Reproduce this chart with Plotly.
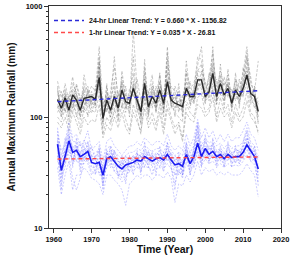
import plotly.graph_objects as go

years = list(range(1961, 2015))

# mean of 24-hr annual maxima (thick black)
mean_24hr = [144, 120, 149, 115, 158, 142, 115, 147, 150, 153,
             144, 228, 97, 142, 115, 153, 120, 175, 137, 133,
             181, 142, 112, 201, 124, 153, 133, 175, 133, 208,
             142, 133, 128, 124, 181, 153, 153, 216, 216, 153,
             169, 247, 153, 201, 158, 181, 133, 175, 153, 181,
             239, 163, 153, 112]

# mean of 1-hr annual maxima (thick blue)
mean_1hr = [57, 33, 44, 61, 48, 50, 44, 46, 49, 39,
            38, 39, 30, 42, 44, 40, 36, 34, 37, 38,
            39, 41, 40, 44, 42, 40, 42, 43, 41, 46,
            41, 37, 38, 36, 46, 38, 44, 58, 44, 52,
            46, 49, 44, 46, 42, 46, 43, 44, 44, 48,
            56, 49, 44, 34]

# individual 24-hr stations (thin gray dashed)
st24_a = [210, 150, 180, 130, 200, 170, 110, 240, 160, 190,
          170, 430, 120, 160, 140, 350, 130, 230, 150, 120,
          600, 180, 100, 280, 140, 200, 150, 240, 120, 430,
          160, 140, 170, 110, 260, 180, 200, 300, 430, 170,
          230, 380, 170, 260, 190, 240, 150, 220, 180, 250,
          430, 200, 170, 320]
st24_b = [100, 90, 120, 85, 130, 110, 80, 120, 105, 115,
          110, 160, 70, 100, 85, 120, 90, 130, 95, 75,
          130, 100, 70, 150, 90, 110, 85, 130, 80, 140,
          100, 80, 90, 65, 130, 110, 100, 150, 160, 110,
          120, 180, 100, 150, 110, 130, 90, 130, 100, 120,
          170, 110, 100, 70]
st24_c = [160, 130, 200, 140, 180, 160, 130, 170, 190, 140,
          150, 280, 90, 190, 110, 170, 150, 200, 120, 160,
          250, 130, 120, 220, 110, 170, 160, 200, 150, 250,
          130, 160, 120, 150, 210, 140, 170, 260, 250, 140,
          190, 300, 140, 220, 170, 200, 120, 210, 160, 200,
          280, 150, 140, 100]
st24_d = [130, 110, 140, 100, 170, 130, 100, 130, 140, 170,
          130, 200, 110, 130, 100, 140, 110, 160, 160, 140,
          170, 160, 100, 180, 130, 140, 120, 160, 120, 190,
          150, 120, 140, 140, 160, 170, 140, 200, 190, 170,
          160, 230, 170, 180, 150, 160, 140, 160, 140, 170,
          220, 180, 160, 130]
st24_e = [190, 100, 160, 120, 140, 190, 140, 160, 120, 140,
          160, 320, 80, 170, 130, 220, 100, 210, 130, 110,
          200, 120, 90, 330, 100, 180, 110, 250, 110, 380,
          130, 110, 100, 90, 250, 130, 170, 350, 330, 140,
          150, 430, 130, 300, 140, 220, 110, 190, 130, 210,
          350, 140, 130, 90]
st24_f = [120, 140, 130, 110, 150, 120, 130, 140, 160, 130,
          140, 180, 100, 120, 120, 130, 140, 150, 130, 150,
          160, 140, 110, 170, 140, 130, 140, 150, 140, 170,
          140, 150, 130, 120, 170, 150, 140, 190, 200, 150,
          180, 200, 150, 190, 160, 170, 140, 180, 170, 160,
          200, 170, 150, 120]
st24_g = [170, 120, 160, 130, 160, 150, 120, 150, 130, 150,
          150, 250, 110, 140, 110, 160, 120, 170, 140, 130,
          190, 140, 120, 200, 120, 150, 140, 180, 130, 220,
          150, 130, 140, 120, 190, 150, 150, 220, 220, 160,
          170, 260, 150, 210, 160, 190, 130, 180, 150, 190,
          260, 170, 160, 110]
st24_h = [90, 80, 100, 75, 110, 90, 70, 100, 85, 95,
          90, 130, 65, 85, 75, 100, 80, 110, 80, 70,
          110, 90, 75, 120, 80, 95, 75, 110, 70, 120,
          90, 70, 85, 60, 110, 95, 90, 130, 120, 100,
          110, 150, 90, 120, 100, 110, 80, 110, 90, 100,
          140, 100, 90, 75]
st24_i = [140, 170, 110, 160, 120, 200, 150, 110, 180, 120,
          190, 180, 140, 110, 170, 280, 160, 140, 110, 180,
          150, 220, 140, 170, 160, 240, 110, 190, 170, 160,
          190, 170, 110, 160, 150, 210, 130, 180, 260, 210,
          140, 200, 220, 160, 230, 150, 180, 140, 220, 150,
          330, 230, 140, 150]
st24_j = [110, 130, 170, 95, 140, 100, 140, 180, 100, 160,
          120, 350, 90, 200, 90, 110, 170, 120, 190, 100,
          210, 110, 140, 130, 170, 120, 190, 140, 100, 290,
          120, 190, 150, 130, 140, 120, 190, 240, 180, 130,
          250, 170, 130, 240, 120, 270, 120, 250, 120, 280,
          190, 130, 190, 85]
st24_k = [180, 110, 140, 150, 230, 140, 95, 200, 140, 110,
          140, 200, 130, 150, 150, 190, 95, 260, 150, 140,
          170, 150, 85, 250, 120, 190, 130, 210, 130, 330,
          170, 100, 200, 100, 320, 160, 160, 260, 300, 190,
          200, 330, 190, 180, 200, 190, 170, 160, 160, 220,
          380, 160, 120, 140]
st24_l = [125, 100, 130, 120, 110, 160, 105, 125, 170, 135,
          125, 300, 100, 120, 100, 140, 130, 190, 120, 125,
          350, 125, 105, 170, 105, 160, 120, 150, 110, 200,
          125, 125, 120, 115, 180, 130, 140, 170, 210, 150,
          160, 280, 140, 160, 140, 200, 140, 150, 140, 180,
          240, 150, 180, 100]

# individual 1-hr stations (thin blue dotted)
st1_a = [80, 45, 60, 90, 65, 70, 55, 60, 75, 50,
         55, 60, 40, 60, 65, 55, 50, 45, 50, 55,
         55, 60, 55, 65, 60, 55, 60, 60, 55, 70,
         55, 50, 55, 50, 70, 55, 65, 95, 65, 80,
         65, 75, 60, 70, 60, 70, 60, 65, 65, 75,
         90, 70, 65, 50]
st1_b = [35, 20, 30, 40, 22, 30, 30, 35, 32, 28,
         27, 25, 20, 30, 30, 27, 25, 22, 16, 25,
         27, 30, 28, 30, 30, 27, 30, 30, 28, 32,
         28, 17, 25, 24, 30, 26, 30, 40, 30, 35,
         32, 34, 30, 32, 30, 32, 30, 30, 30, 33,
         38, 33, 30, 19]
st1_c = [60, 30, 45, 70, 50, 55, 40, 50, 55, 35,
         35, 45, 25, 45, 50, 40, 30, 30, 35, 40,
         45, 40, 35, 50, 45, 35, 45, 50, 40, 55,
         45, 30, 40, 30, 55, 35, 50, 75, 45, 60,
         50, 55, 45, 50, 40, 55, 45, 50, 45, 55,
         65, 50, 45, 30]
st1_d = [50, 40, 40, 55, 45, 45, 50, 40, 45, 45,
         42, 35, 35, 38, 40, 45, 40, 38, 42, 35,
         35, 45, 45, 40, 38, 45, 38, 40, 45, 42,
         38, 42, 35, 42, 40, 42, 40, 50, 40, 45,
         42, 45, 42, 42, 45, 42, 40, 40, 42, 44,
         50, 45, 40, 38]
st1_e = [45, 25, 55, 75, 35, 65, 35, 55, 40, 45,
         30, 55, 22, 50, 35, 50, 28, 45, 25, 45,
         30, 50, 30, 60, 35, 50, 30, 55, 35, 60,
         35, 22, 48, 30, 60, 30, 55, 85, 35, 70,
         38, 65, 35, 55, 35, 60, 35, 55, 38, 60,
         75, 42, 55, 28]
st1_f = [65, 35, 50, 45, 28, 22, 28, 40, 60, 40,
         45, 30, 30, 35, 55, 35, 40, 30, 40, 32,
         45, 35, 45, 35, 50, 38, 45, 35, 48, 40,
         48, 40, 30, 40, 38, 45, 35, 55, 55, 45,
         55, 42, 50, 40, 48, 40, 48, 38, 50, 42,
         60, 55, 40, 45]
st1_g = [40, 35, 38, 50, 40, 40, 38, 38, 42, 32,
         32, 32, 28, 35, 38, 33, 32, 28, 30, 32,
         33, 35, 34, 36, 35, 33, 34, 35, 34, 38,
         34, 30, 32, 30, 38, 33, 36, 48, 36, 42,
         38, 40, 36, 38, 35, 38, 36, 37, 36, 40,
         46, 40, 37, 26]
st1_h = [70, 50, 55, 80, 60, 60, 55, 55, 60, 45,
         48, 50, 35, 52, 55, 48, 45, 42, 45, 48,
         48, 52, 50, 55, 52, 48, 52, 52, 48, 58,
         50, 45, 48, 45, 58, 48, 55, 90, 55, 65,
         58, 62, 55, 58, 52, 58, 52, 55, 55, 60,
         80, 60, 55, 42]
st1_i = [55, 38, 65, 50, 42, 48, 60, 42, 50, 38,
         44, 48, 32, 38, 48, 42, 35, 40, 32, 44,
         42, 48, 38, 48, 40, 45, 42, 40, 44, 50,
         44, 35, 42, 32, 50, 40, 48, 65, 42, 55,
         48, 52, 48, 50, 45, 50, 45, 52, 48, 52,
         65, 52, 48, 32]
st1_j = [75, 28, 35, 65, 55, 40, 48, 52, 45, 55,
         40, 38, 28, 48, 40, 50, 42, 35, 45, 38,
         42, 38, 48, 42, 48, 42, 48, 45, 38, 48,
         38, 45, 38, 40, 42, 48, 38, 70, 48, 50,
         42, 58, 40, 48, 45, 48, 42, 45, 48, 50,
         58, 46, 50, 35]
st1_k = [48, 22, 48, 58, 38, 55, 32, 48, 38, 30,
         33, 40, 24, 40, 42, 32, 30, 26, 28, 36,
         36, 42, 32, 42, 36, 30, 38, 42, 32, 46,
         36, 25, 34, 28, 48, 30, 42, 60, 38, 50,
         40, 46, 38, 44, 36, 46, 38, 42, 38, 46,
         55, 40, 42, 24]
st1_l = [62, 42, 50, 68, 52, 58, 45, 62, 52, 42,
         42, 52, 33, 48, 52, 44, 40, 36, 40, 42,
         40, 46, 44, 52, 46, 44, 46, 46, 44, 52,
         46, 40, 44, 38, 52, 42, 50, 82, 50, 62,
         52, 58, 50, 52, 48, 52, 48, 50, 50, 55,
         72, 56, 50, 40]

stations_24 = [st24_a, st24_b, st24_c, st24_d, st24_e, st24_f,
               st24_g, st24_h, st24_i, st24_j, st24_k, st24_l]
stations_1 = [st1_a, st1_b, st1_c, st1_d, st1_e, st1_f,
              st1_g, st1_h, st1_i, st1_j, st1_k, st1_l]

# trend coefficients from legend
slope_24, icpt_24 = 0.660, -1156.82
slope_1, icpt_1 = 0.035, -26.81
label_24 = "24-hr Linear Trend: Y = 0.660 * X - 1156.82"
label_1 = "1-hr Linear Trend: Y = 0.035 * X - 26.81"

x_ticks = [1960, 1970, 1980, 1990, 2000, 2010, 2020]
y_ticks = [10, 100, 1000]

FONT = "Liberation Sans"

fig = go.Figure()

for s in stations_24:
    fig.add_trace(go.Scatter(x=years, y=s, mode="lines", showlegend=False,
                             line=dict(color="rgba(95,95,95,0.55)", width=0.6, dash="3px,1.5px")))
for s in stations_1:
    fig.add_trace(go.Scatter(x=years, y=s, mode="lines", showlegend=False,
                             line=dict(color="rgba(80,80,255,0.5)", width=0.6, dash="2px,1.5px")))

fig.add_trace(go.Scatter(x=years, y=mean_24hr, mode="lines", showlegend=False,
                         line=dict(color="#2a2a2a", width=1.4)))
fig.add_trace(go.Scatter(x=years, y=mean_1hr, mode="lines", showlegend=False,
                         line=dict(color="#1c1cf0", width=1.6)))

fig.add_trace(go.Scatter(x=[years[0], years[-1]],
                         y=[slope_24 * years[0] + icpt_24, slope_24 * years[-1] + icpt_24],
                         mode="lines", name=label_24, legend="legend",
                         line=dict(color="#2a2ad8", width=1.4, dash="4px,3px")))
fig.add_trace(go.Scatter(x=[years[0], years[-1]],
                         y=[slope_1 * years[0] + icpt_1, slope_1 * years[-1] + icpt_1],
                         mode="lines", name=label_1, legend="legend2",
                         line=dict(color="#ff4a4a", width=1.4, dash="4px,3px")))

axis_common = dict(showline=True, linecolor="#333", linewidth=1.2, mirror=True,
                   ticks="outside", tickcolor="#333", ticklen=4, showgrid=False,
                   zeroline=False, automargin=False,
                   tickfont=dict(family=FONT, size=7.5, color="#111", weight="bold"))

fig.update_xaxes(range=[1958.75, 2020], tickvals=x_ticks,
                 minor=dict(ticks="outside", ticklen=2, tickcolor="#333", dtick=5, showgrid=False),
                 title=dict(text="<b>Time (Year)</b>", font=dict(family=FONT, size=10.5, color="#111"),
                            standoff=12),
                 **axis_common)
fig.update_yaxes(type="log", range=[1, 3], tickvals=y_ticks,
                 minor=dict(ticks="outside", ticklen=2, tickcolor="#333", dtick="D1", showgrid=False),
                 title=dict(text="<b>Annual Maximum Rainfall (mm)</b>",
                            font=dict(family=FONT, size=10, color="#111"), standoff=8),
                 **axis_common)

legend_font = dict(family=FONT, size=7, color="#111", weight="bold")
fig.update_layout(
    width=290, height=255,
    margin=dict(l=49, r=9, t=6, b=27),
    paper_bgcolor="white", plot_bgcolor="white",
    legend=dict(x=0.0, y=1.0, xanchor="left", yanchor="top",
                bgcolor="rgba(0,0,0,0)", borderwidth=0, font=legend_font, itemwidth=30),
    legend2=dict(x=0.0, y=0.946, xanchor="left", yanchor="top",
                 bgcolor="rgba(0,0,0,0)", borderwidth=0, font=legend_font, itemwidth=30),
)

fig.write_html("out.html")
